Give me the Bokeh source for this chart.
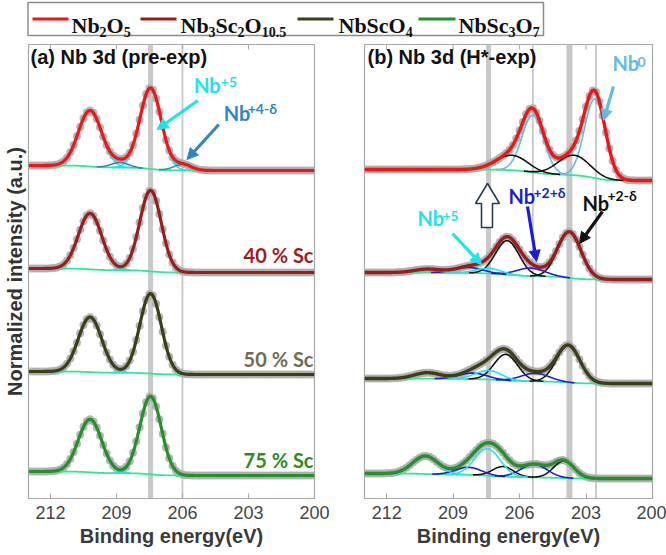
import numpy as np
from bokeh.plotting import figure
from bokeh.models import Range1d, FixedTicker, Span, Arrow, NormalHead
from bokeh.layouts import column, row
from bokeh.embed import file_html
from bokeh.resources import INLINE
from bokeh.core.properties import value

# ---------------- data ----------------
energy_ticks = [212, 209, 206, 203, 200]
samples = ["Nb2O5", "Nb3Sc2O10.5", "NbScO4", "NbSc3O7"]
sample_colors = ["#F01414", "#9C1B1B", "#3E3E16", "#23902A"]
sc_labels = ["", "40 % Sc", "50 % Sc", "75 % Sc"]
sc_label_colors = ["#000000", "#A01D1D", "#6E6E50", "#2C8C22"]

# panel (a) pre-exp: background level (a.u., stacked) on high-BE and low-BE side
a_bg_high = [333, 230, 127, 27]
a_bg_low = [328, 226, 124, 23]
# Nb+5 doublet (3d5/2, 3d3/2)
a_nb5_center = [207.45, 210.20]
a_nb5_fwhm = [1.15, 1.25]
a_nb5_height = [[81, 56], [81, 56], [80, 55], [78, 53]]
# Nb+4-delta doublet (Nb2O5 only)
a_nb4_center = [206.00, 208.85]
a_nb4_fwhm = [0.95, 0.95]
a_nb4_height = [6, 5]
a_ref_lines = [207.45, 206.00]

# panel (b) H*-exp
b_bg_high = [329, 226, 120, 25]
b_bg_low = [318, 219, 115, 20]
# Nb0 doublet (Nb2O5 only)
b_nb0_center = [202.60, 205.40]
b_nb0_fwhm = [1.10, 1.15]
b_nb0_height = [79, 57]
# Nb+2-delta doublet (black)
b_nb2m_center = [[203.55, 206.35], [203.75, 206.55], [203.80, 206.62], [204.00, 206.75]]
b_nb2m_fwhm = [1.70, 1.25, 1.25, 1.10]
b_nb2m_height = [[20, 15], [46, 34], [37, 26], [17, 10]]
# Nb+2+delta doublet (blue), Sc-containing samples
b_nb2p_center = [[205.50, 208.30], [205.30, 208.10], [205.35, 208.30]]
b_nb2p_fwhm = [1.50, 1.50, 1.40]
b_nb2p_height = [[8, 5.5], [8, 6], [13, 7.5]]
# Nb+5 doublet (cyan), Sc-containing samples
b_nb5_center = [[207.40, 210.15], [207.40, 210.15], [207.45, 210.25]]
b_nb5_fwhm = [1.40, 1.40, 1.35]
b_nb5_height = [[5, 3.5], [9, 6], [27, 18]]
b_ref_lines = [207.40, 205.40, 203.75, 202.55]

# ---------------- styles ----------------
BG_COL = "#30E89A"
CYAN = "#1EE3EE"
STEEL = "#2F86C0"
SKY = "#65B9E4"
BLUE = "#1C1CD8"
BLACK = "#111111"
DOT = "#ADADAD"
GRID_GREY = "#C8C8C8"
FRAME = "#A8A8A8"
TXT = "#3A3A3A"

E = np.arange(0, 521) * 0.025 + 200.0


def peak(c, h, w):
    return h * np.exp(-4 * np.log(2) * (E - c) ** 2 / w ** 2)


def shirley(total, hi, lo):
    cum = np.concatenate([[0.0], np.cumsum(0.5 * (total[1:] + total[:-1]) * np.diff(E))])
    return lo + (hi - lo) * cum / cum[-1]


def make_panel(left, right, ylabel):
    p = figure(width=333, height=515, x_range=Range1d(213, 200), y_range=Range1d(0, 454),
               output_backend="svg", toolbar_location=None,
               min_border_left=left, min_border_right=right,
               min_border_top=4, min_border_bottom=57)
    p.grid.visible = False
    p.outline_line_color = FRAME
    p.outline_line_width = 1.2
    p.background_fill_color = "white"
    p.border_fill_color = "white"
    xa = p.xaxis[0]
    xa.ticker = FixedTicker(ticks=energy_ticks)
    xa.major_tick_in = 5
    xa.major_tick_out = 0
    xa.minor_tick_in = 0
    xa.minor_tick_out = 0
    xa.major_tick_line_color = FRAME
    xa.axis_line_color = FRAME
    xa.major_label_text_font = "Liberation Sans"
    xa.major_label_text_font_size = "18px"
    xa.major_label_text_color = "#454545"
    xa.major_label_standoff = 7
    xa.axis_label = "Binding energy(eV)"
    xa.axis_label_text_font = "Liberation Sans"
    xa.axis_label_text_font_style = "bold"
    xa.axis_label_text_font_size = "20px"
    xa.axis_label_text_color = TXT
    xa.axis_label_standoff = 3
    # inward ticks on the top edge of the frame
    p.segment(x0=energy_ticks, y0=[454] * len(energy_ticks), x1=energy_ticks,
              y1=[449] * len(energy_ticks), line_color=FRAME, line_width=1)
    ya = p.yaxis[0]
    if ylabel:
        ya.ticker = FixedTicker(ticks=[])
        ya.major_tick_in = 0
        ya.major_tick_out = 0
        ya.minor_tick_in = 0
        ya.minor_tick_out = 0
        ya.major_label_standoff = 0
        ya.axis_line_color = None
        ya.axis_label = ylabel
        ya.axis_label_text_font = "Liberation Sans"
        ya.axis_label_text_font_style = "bold"
        ya.axis_label_text_font_size = "20px"
        ya.axis_label_text_color = "#333333"
        ya.axis_label_standoff = 3
    else:
        ya.visible = False
    return p


def draw_spectrum(p, comps, hi, lo, env_color, env_width):
    total = np.zeros_like(E)
    for _, y in comps:
        total = total + y
    bg = shirley(total, hi, lo)
    env = bg + total
    p.scatter(E[::6], env[::6], size=8, fill_color=DOT, line_color=None, fill_alpha=0.9)
    p.line(E, bg, line_color=BG_COL, line_width=1.8)
    for col, y in comps:
        yc = np.where(y > 0.15, bg + y, np.nan)
        p.line(E, yc, line_color=col, line_width=1.6)
    p.line(E, env, line_color=env_color, line_width=env_width)


def txt(p, x, y, s, color, size, font="Lato", align="left"):
    # baseline given in picture pixels; glyphs render about half an em low, compensate
    p.text([x], [y + 0.5 * size], text=[s], text_font=value(font), text_font_style="bold",
           text_font_size=value(f"{size}px"), text_color=color, text_align=align,
           text_baseline="alphabetic")


def sup_label(p, x1, y1, x2, y2, main, sup, color):
    txt(p, x1, y1, main, color, 20)
    txt(p, x2, y2, sup, color, 14)


def arrow(p, xs, ys, xe, ye, color):
    p.add_layout(Arrow(end=NormalHead(size=11, fill_color=color, line_color=color, line_width=1),
                       x_start=xs, y_start=ys, x_end=xe, y_end=ye,
                       line_color=color, line_width=3.2))


def ax(px):
    return 213 - (px - 27) * 13 / 287


def bx(px):
    return 213 - (px - 364) * 13 / 288


def yy(py):
    return 498 - py


# ---------------- panel (a) ----------------
pa = make_panel(27, 19, "Normalized intensity (a.u.)")
for pos, w in zip(a_ref_lines, [5, 1.8]):
    pa.add_layout(Span(location=pos, dimension="height", line_color=GRID_GREY,
                       line_width=w, level="underlay"))
for i in range(4):
    comps = [(CYAN, peak(a_nb5_center[k], a_nb5_height[i][k], a_nb5_fwhm[k])) for k in range(2)]
    if i == 0:
        comps += [(STEEL, peak(a_nb4_center[k], a_nb4_height[k], a_nb4_fwhm[k])) for k in range(2)]
    draw_spectrum(pa, comps, a_bg_high[i], a_bg_low[i], sample_colors[i], 3.2)

txt(pa, ax(29), yy(66), "(a) Nb 3d (pre-exp)", "#111111", 20, font="Liberation Sans")
for i, yb in zip([1, 2, 3], [264, 368, 469]):
    txt(pa, ax(313), yy(yb), sc_labels[i], sc_label_colors[i], 20, align="right")
sup_label(pa, ax(193), yy(94), ax(220), yy(88), "Nb", "+5", CYAN)
sup_label(pa, ax(223), yy(122), ax(247), yy(115), "Nb", "+4-δ", STEEL)
arrow(pa, ax(197), yy(100), ax(156), yy(129), CYAN)
arrow(pa, ax(218), yy(124), ax(186), yy(159), STEEL)

# ---------------- panel (b) ----------------
pb = make_panel(31, 14, None)
for pos, w in zip(b_ref_lines, [5, 1.8, 6, 1.8]):
    pb.add_layout(Span(location=pos, dimension="height", line_color=GRID_GREY,
                       line_width=w, level="underlay"))
for i in range(4):
    comps = []
    if i == 0:
        comps += [(SKY, peak(b_nb0_center[k], b_nb0_height[k], b_nb0_fwhm[k])) for k in range(2)]
    comps += [(BLACK, peak(b_nb2m_center[i][k], b_nb2m_height[i][k], b_nb2m_fwhm[i])) for k in range(2)]
    if i > 0:
        j = i - 1
        comps += [(BLUE, peak(b_nb2p_center[j][k], b_nb2p_height[j][k], b_nb2p_fwhm[j])) for k in range(2)]
        comps += [(CYAN, peak(b_nb5_center[j][k], b_nb5_height[j][k], b_nb5_fwhm[j])) for k in range(2)]
    draw_spectrum(pb, comps, b_bg_high[i], b_bg_low[i], sample_colors[i], 3.4)

txt(pb, bx(367), yy(66), "(b) Nb 3d (H*-exp)", "#111111", 20, font="Liberation Sans")
sup_label(pb, bx(612), yy(72), bx(637), yy(68), "Nb", "0", SKY)
sup_label(pb, bx(508), yy(205), bx(533), yy(199), "Nb", "+2+δ", BLUE)
sup_label(pb, bx(582), yy(212), bx(607), yy(202), "Nb", "+2-δ", BLACK)
sup_label(pb, bx(417), yy(227), bx(442), yy(222), "Nb", "+5", CYAN)
arrow(pb, bx(613), yy(86), bx(603), yy(120), SKY)
arrow(pb, bx(452), yy(233), bx(481), yy(264), CYAN)
arrow(pb, bx(527), yy(206), bx(536), yy(261), BLUE)
arrow(pb, bx(602), yy(211), bx(579), yy(243), BLACK)
# hollow up arrow
hx = [487, 499, 492, 492, 481, 481, 475, 487]
hy = [183, 203, 203, 227, 227, 203, 203, 183]
pb.patch([bx(v) for v in hx], [yy(v) for v in hy], fill_color="white",
         line_color="#2B3A55", line_width=1.6)

# ---------------- legend strip ----------------
pl = figure(width=666, height=40, x_range=Range1d(0, 666), y_range=Range1d(40, 0),
            output_backend="svg", toolbar_location=None, min_border=0)
pl.axis.visible = False
pl.grid.visible = False
pl.outline_line_color = None
pl.quad(left=[27.5], right=[543], top=[2], bottom=[35], fill_color=None,
        line_color="#8C8C8C", line_width=1.5)
legend_parts = [[("Nb", 0), ("2", 1), ("O", 0), ("5", 1)],
                [("Nb", 0), ("3", 1), ("Sc", 0), ("2", 1), ("O", 0), ("10.5", 1)],
                [("NbScO", 0), ("4", 1)],
                [("NbSc", 0), ("3", 1), ("O", 0), ("7", 1)]]
legend_line_x = [(32, 68), (140, 176), (297, 333), (418, 455)]
legend_text_x = [71, 180, 338, 458]
tw = {"N": .722, "b": .556, "O": .778, "S": .556, "c": .444, ".": .25}
MAIN, SUB = 22, 14
mx, my, mt, sx, sy, st = [], [], [], [], [], []
for i, parts in enumerate(legend_parts):
    pl.line(list(legend_line_x[i]), [18.5, 18.5], line_color=sample_colors[i], line_width=3)
    x = legend_text_x[i]
    for s, is_sub in parts:
        size = SUB if is_sub else MAIN
        if is_sub:
            sx.append(x); sy.append(31); st.append(s)
        else:
            mx.append(x); my.append(25); mt.append(s)
        x += sum(tw.get(ch, .5) for ch in s) * size
pl.text(mx, my, text=mt, text_font=value("Liberation Serif"), text_font_style="bold",
        text_font_size=value("22px"), text_color="#111111", text_baseline="alphabetic")
pl.text(sx, sy, text=st, text_font=value("Liberation Serif"), text_font_style="bold",
        text_font_size=value("14px"), text_color="#111111", text_baseline="alphabetic")

layout = column(pl, row(pa, pb))
open("out.html", "w").write(file_html(layout, INLINE))
